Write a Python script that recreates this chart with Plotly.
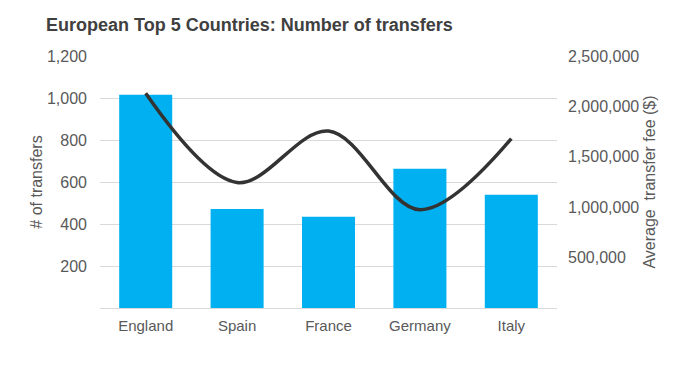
import plotly.graph_objects as go

countries = ["England", "Spain", "France", "Germany", "Italy"]
transfers = [1015, 472, 434, 663, 539]
avg_fee = [2130000, 1245000, 1755000, 975000, 1680000]
left_ticks = [0, 200, 400, 600, 800, 1000, 1200]
left_labels = ["", "200", "400", "600", "800", "1,000", "1,200"]
right_ticks = [500000, 1000000, 1500000, 2000000, 2500000]

FONT = "Liberation Sans, Arial, sans-serif"

fig = go.Figure()
fig.add_trace(go.Bar(x=countries, y=transfers, marker_color="#00b0f0",
                     marker_line_width=0, name="# of transfers"))
fig.add_trace(go.Scatter(x=countries, y=avg_fee, yaxis="y2", mode="lines",
                         line=dict(color="#333333", width=3.5, shape="spline", smoothing=1.0),
                         name="Average transfer fee"))

fig.update_layout(
    width=690, height=371,
    margin=dict(l=92, r=141, t=48, b=71),
    paper_bgcolor="white", plot_bgcolor="white",
    showlegend=False,
    bargap=0.42,
    font=dict(family=FONT, size=16, color="#595959"),
    title=dict(text="<b>European Top 5 Countries: Number of transfers</b>",
               x=38/690, xanchor="left", y=1-17/371, yanchor="middle",
               font=dict(family=FONT, size=18, color="#404040")),
    xaxis=dict(showgrid=False, showline=True, linecolor="#d9d9d9", linewidth=1,
               ticks="", ticklabelstandoff=4, tickfont=dict(size=15, color="#595959")),
    yaxis=dict(range=[0, 1200], tickvals=left_ticks, ticktext=left_labels,
               showgrid=True, gridcolor="#d9d9d9", gridwidth=1, zeroline=False,
               ticks="", ticklabelstandoff=12,
               title=dict(text="# of transfers", font=dict(size=16, color="#595959"), standoff=0)),
    yaxis2=dict(range=[0, 2500000], tickvals=right_ticks, tickformat=",",
                overlaying="y", side="right", showgrid=False, zeroline=False,
                ticks="", ticklabelstandoff=10,
                title=dict(text="Average  transfer fee ($)", font=dict(size=16, color="#595959"), standoff=5)),
)

fig.write_html("out.html")
